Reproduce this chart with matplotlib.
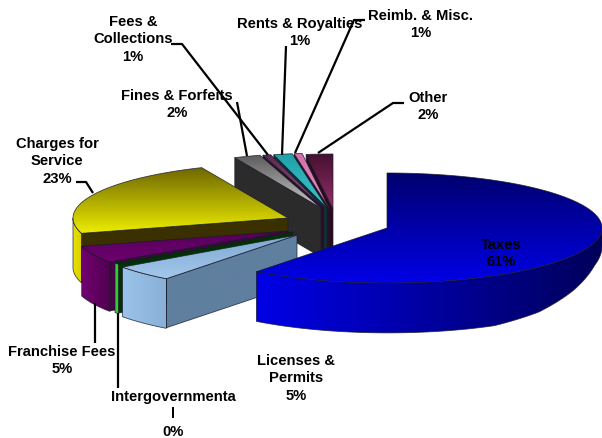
import numpy as np
import matplotlib
matplotlib.use('Agg')
import matplotlib.pyplot as plt
from matplotlib.colors import LinearSegmentedColormap
from matplotlib.patches import Polygon

plt.rcParams['font.family'] = ['Liberation Sans', 'DejaVu Sans']

names = ['Taxes', 'Licenses &\nPermits', 'Intergovernmenta\nl', 'Franchise Fees',
         'Charges for\nService', 'Fines & Forfeits', 'Fees &\nCollections',
         'Rents & Royalties', 'Reimb. & Misc.', 'Other']
values = [60.6, 4.7, 0.45, 5, 23, 2, 0.6, 1.4, 0.6, 2]

# exploded centre of each slice, in pixels
centers = [(387, 228), (297, 235), (293, 232), (288, 231), (288, 218),
           (321, 208), (324, 208), (327, 208), (329, 208), (333, 209)]
# top start colour, top end colour, rim left, rim right, cut face
styles = [('#00006e', '#0000e6', '#0000e6', '#00005a', '#000080'),
          ('#7fa8d0', '#a4c8ec', '#9cc3ea', '#88b0d8', '#5f7f9f'),
          ('#003300', '#003300', '#33cc33', '#33cc33', '#003300'),
          ('#55005a', '#6e0070', '#700070', '#500050', '#4a004a'),
          ('#6e6600', '#ecec00', '#e8e000', '#d8d000', '#3a3000'),
          ('#5c5c5c', '#c8c8c8', '#444444', '#444444', '#2b2b2b'),
          ('#5a2850', '#a05088', '#441030', '#441030', '#2a1025'),
          ('#20a0a8', '#40c8d0', '#104848', '#104848', '#0c3438'),
          ('#d070a8', '#f090c8', '#551040', '#551040', '#301020'),
          ('#451030', '#96306c', '#451030', '#451030', '#2a0c20')]
RX, RY = 215, 55
DEPTH = 49


def thick(theta):
    # the rim gets thinner toward the far right
    return np.interp(theta, [0, 90, 105, 120, 135, 150, 360],
                     [DEPTH, 18, 23, 35, 45, DEPTH + 1, DEPTH])


def arc(c, a, b):
    th = np.linspace(a, b, max(int(abs(b - a) * 2), 2))
    r = np.radians(th)
    return th, c[0] + RX * np.sin(r), c[1] - RY * np.cos(r)


def grad_poly(ax, xs, ys, c1, c2, z, horizontal=False):
    pts = np.column_stack([xs, ys])
    cmap = LinearSegmentedColormap.from_list('g', [c1, c2])
    g = np.linspace(0, 1, 128)
    g = g.reshape(1, -1) if horizontal else g.reshape(-1, 1)
    im = ax.imshow(g, cmap=cmap, aspect='auto', origin='upper', zorder=z,
                   extent=(xs.min(), xs.max(), ys.max(), ys.min()))
    p = Polygon(pts, closed=True, fc='none', ec='#1a1a2a', lw=0.6, zorder=z + 0.5, alpha=0.8)
    ax.add_patch(p)
    im.set_clip_path(p)


fig = plt.figure(figsize=(6.02, 4.38), dpi=100)
ax = fig.add_axes([0, 0, 1, 1])

total = sum(values)
bounds = np.cumsum([0] + values) / total * 360
order = [9, 8, 7, 6, 5, 4, 3, 2, 1, 0]
for n, i in enumerate(order):
    a, b = bounds[i], bounds[i + 1]
    c = centers[i]
    st = styles[i]
    z = 10 + n * 3
    th, x, y = arc(c, a, b)
    # cut face along the starting edge
    if 180 < a < 360:
        x0, y0 = x[0], y[0]
        grad_poly(ax, np.array([x0, c[0], c[0], x0]),
                  np.array([y0, c[1], c[1] + DEPTH, y0 + DEPTH]), st[4], st[4], z)
    # outer rim, only the part turned to the viewer
    lo, hi = max(a, 90), min(b, 270)
    if lo < hi:
        th2, rx_, ry_ = arc(c, lo, hi)
        xs = np.concatenate([rx_, rx_[::-1]])
        ys = np.concatenate([ry_, (ry_ + thick(th2))[::-1]])
        grad_poly(ax, xs, ys, st[2], st[3], z + 1, horizontal=True)
    # top
    grad_poly(ax, np.concatenate([[c[0]], x]), np.concatenate([[c[1]], y]), st[0], st[1], z + 2)

# labels: centre x, first line y
label_pos = [(501, 245), (296, 361), (173, 397), (62, 352), (57, 144),
             (177, 96), (133, 22), (300, 24), (421, 16), (428, 98)]
for name, v, (lx, ly) in zip(names, values, label_pos):
    ax.text(lx, ly - 7, f'{name}\n{round(v)}%', ha='center', va='top', fontsize=10.6,
            fontweight='bold', color='black', linespacing=1.3, zorder=60)

leaders = [([171, 182, 268], [44, 44, 155]),
           ([286, 282], [46, 155]),
           ([365, 354, 295], [20, 20, 153]),
           ([404, 393, 318], [103, 103, 153]),
           ([237, 247], [102, 156]),
           ([76, 86, 93], [182, 182, 193]),
           ([95, 95], [303, 343]),
           ([118, 118], [313, 388])]
for lxs, lys in leaders:
    ax.plot(lxs, lys, color='black', lw=1.6, zorder=55, solid_capstyle='butt')

ax.set_xlim(0, 602)
ax.set_ylim(438, 0)
ax.axis('off')
fig.savefig('out.png', dpi=100)
